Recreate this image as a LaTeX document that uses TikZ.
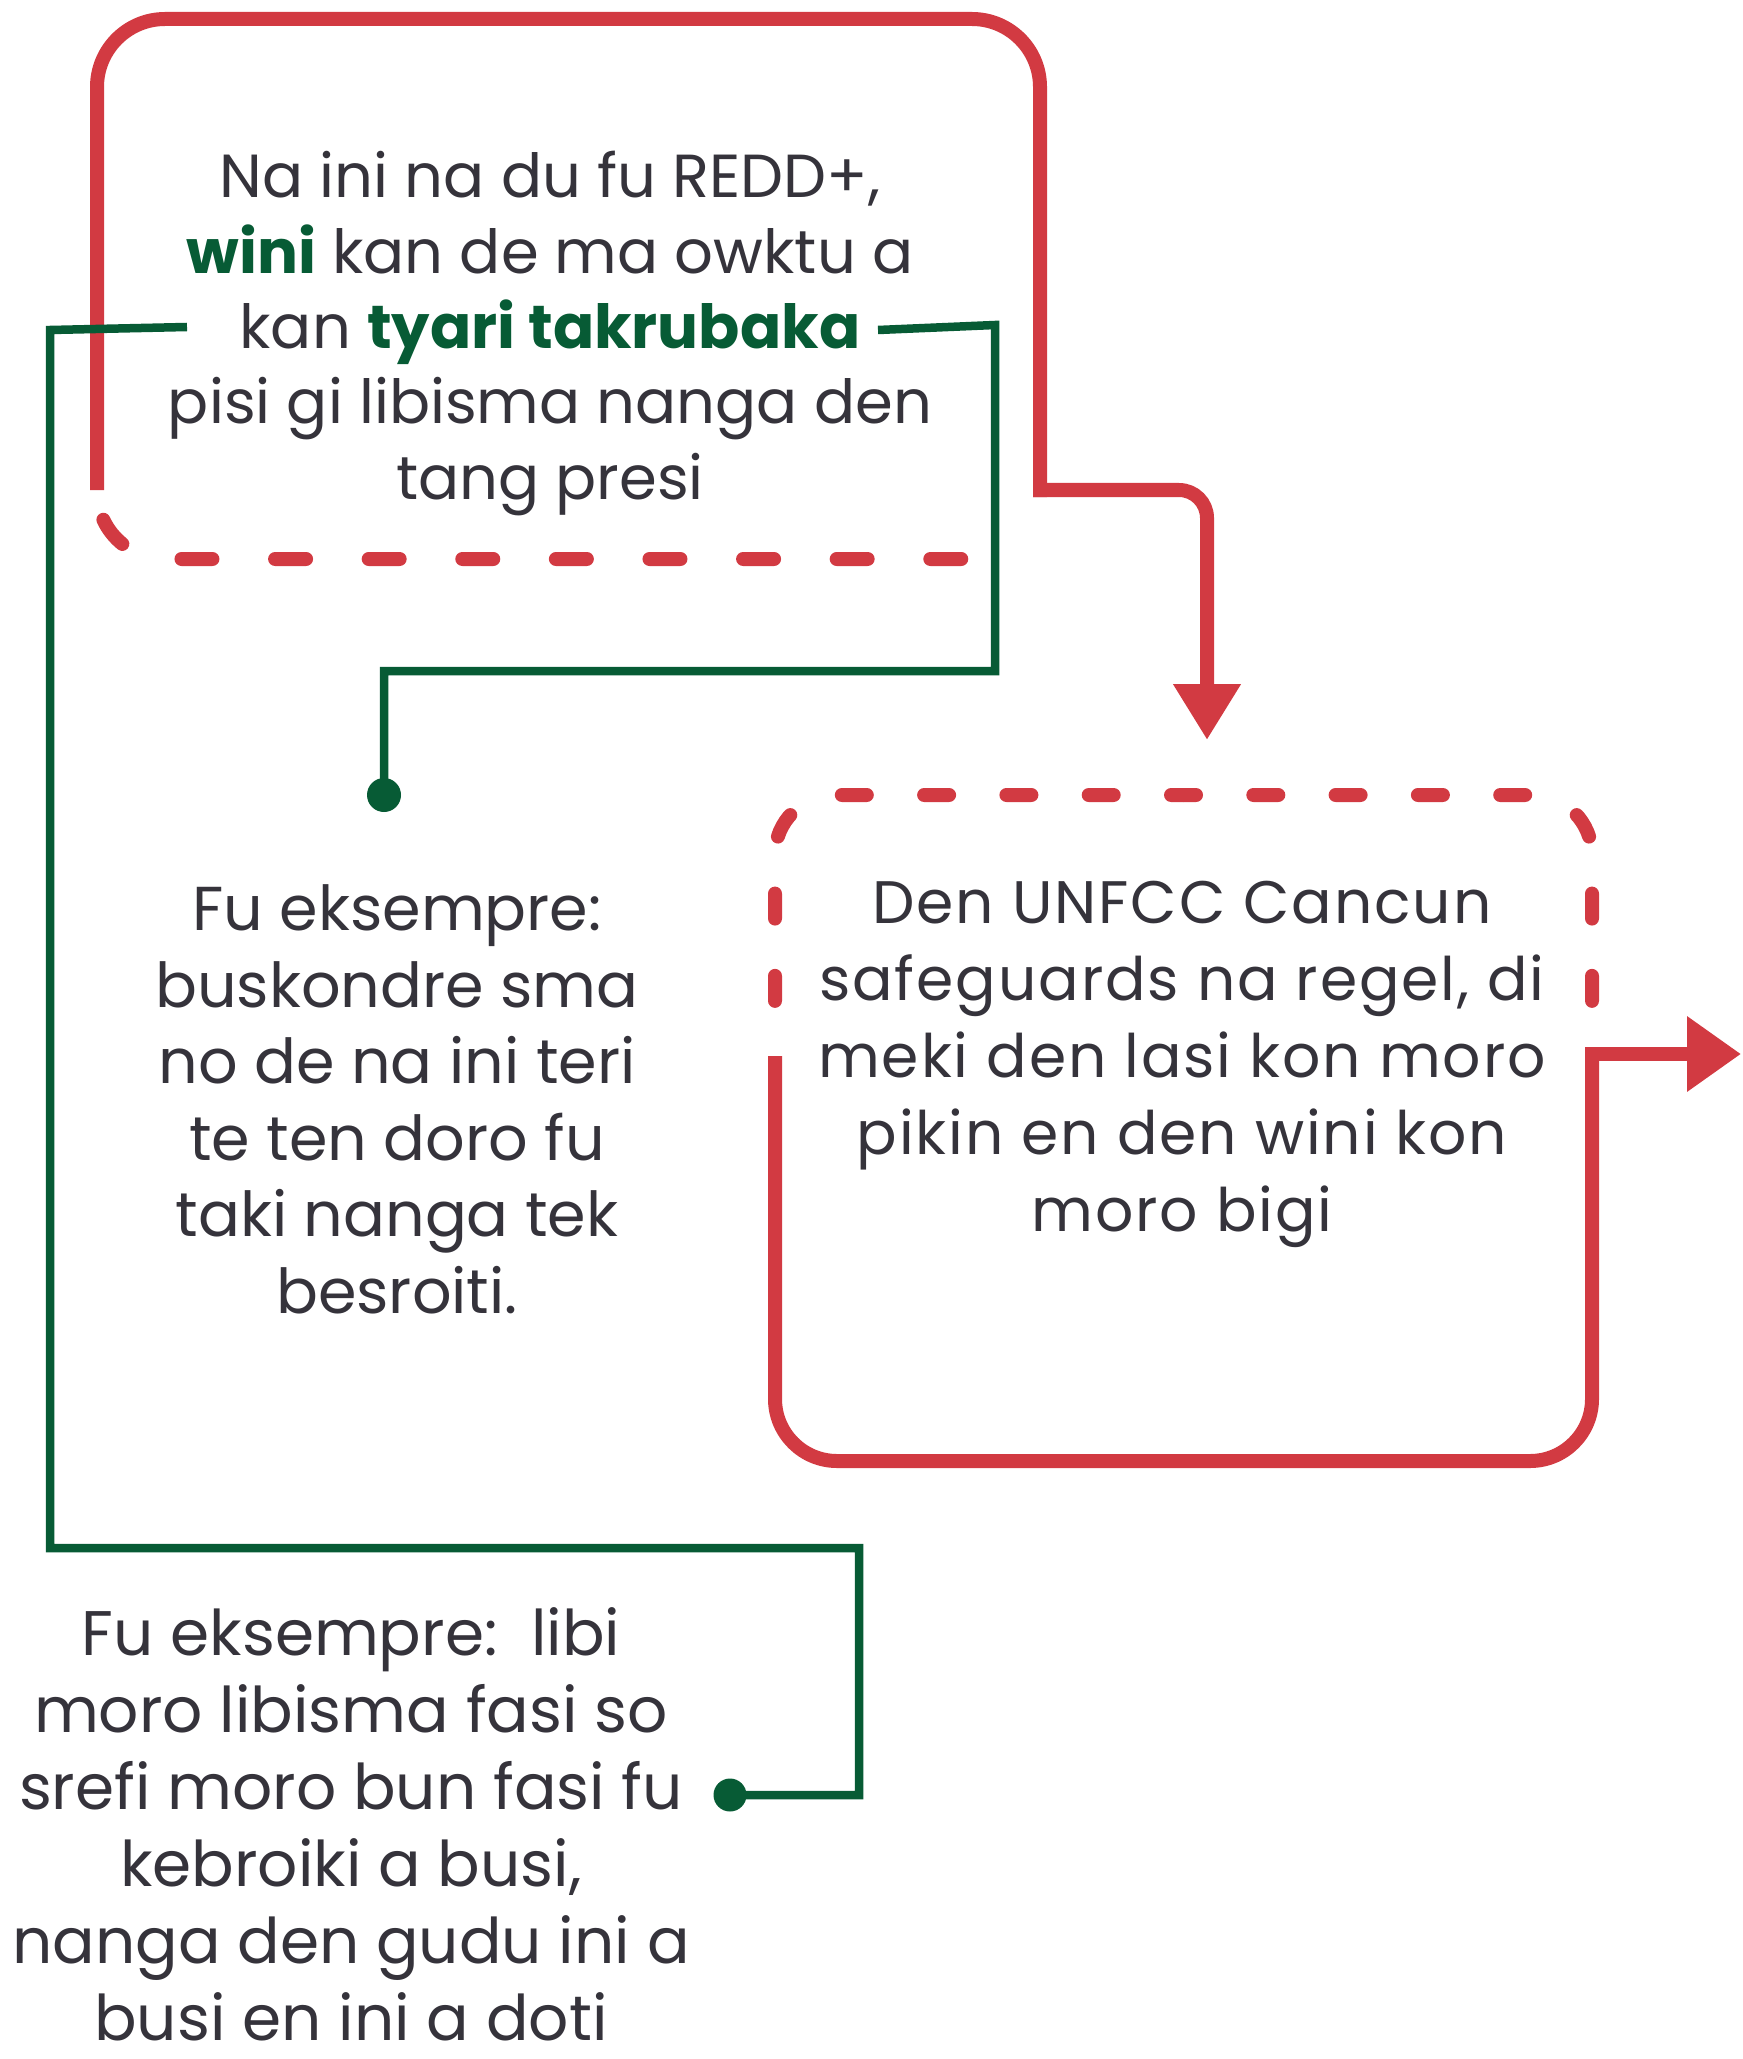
\documentclass[tikz,border=0pt]{standalone}
\usepackage{fontspec}
\setmainfont{Poppins}
\newfontfamily\widefont[LetterSpace=3.2]{Poppins}
\usetikzlibrary{arrows.meta}
\definecolor{myred}{HTML}{D23A42}
\definecolor{mygreen}{HTML}{075B35}
\definecolor{txtgray}{HTML}{35333B}
\begin{document}
\begin{tikzpicture}[x=0.5pt,y=-0.5pt,
  redline/.style={draw=myred, line width=7pt},
  greenline/.style={draw=mygreen, line width=4.25pt},
  txtnode/.style={text=txtgray, align=center, inner sep=0pt, anchor=base}]
\useasboundingbox (0,0) rectangle (1743,2059);
% ---------- coordinates
\coordinate (b1l) at (97,490);
\coordinate (b1tl) at (97,19);
\coordinate (b1tr) at (1040,19);
\coordinate (b1r) at (1040,497);
\coordinate (a1s) at (1033,490);
\coordinate (a1c) at (1207,490);
\coordinate (a1t) at (1207,740);
\coordinate (b1bl) at (97,559);
\coordinate (b1be) at (1000,559);
\coordinate (b2tc) at (1183.5,795);
\coordinate (b2tl) at (775,795);
\coordinate (b2tr) at (1592,795);
\coordinate (b2le) at (775,1040);
\coordinate (b2re) at (1592,1040);
\coordinate (b2ls) at (775,1056);
\coordinate (b2bl) at (775,1461);
\coordinate (b2br) at (1592,1461);
\coordinate (b2rs) at (1592,1047);
\coordinate (a2s) at (1585,1054);
\coordinate (a2t) at (1741,1054);
% ---------- red box 1
\draw[redline, rounded corners=34pt] (b1l) -- (b1tl) -- (b1tr) -- (b1r);
\draw[redline, rounded corners=14pt, -{Triangle[length=28pt,width=32pt]}] (a1s) -- (a1c) -- (a1t);
\draw[redline, line cap=round, dash pattern=on 15.5pt off 31.3pt, dash phase=31.45pt, rounded corners=34pt] (b1l) -- (b1bl) -- (b1be);
% ---------- red box 2
\draw[redline, line cap=round, dash pattern=on 12.5pt off 28.65pt, dash phase=6.25pt, rounded corners=30pt] (b2tc) -- (b2tl) -- (b2le);
\draw[redline, line cap=round, dash pattern=on 12.5pt off 28.65pt, dash phase=6.25pt, rounded corners=30pt] (b2tc) -- (b2tr) -- (b2re);
\draw[redline, rounded corners=31pt] (b2ls) -- (b2bl) -- (b2br) -- (b2rs);
\draw[redline, -{Triangle[length=27pt,width=36pt]}] (a2s) -- (a2t);
% ---------- texts (anchored at the baseline of the last line)
\node[txtnode, font=\fontsize{30.4}{37.65}\selectfont] (t1) at (550,499)
 {Na ini na du fu REDD+,\\ \textcolor{mygreen}{\textbf{wini}} kan de ma owktu a\\ kan \textcolor{mygreen}{\textbf{tyari takrubaka}}\\ pisi gi libisma nanga den\\ tang presi};
\node[txtnode, font=\fontsize{31}{38.25}\selectfont] (t2) at (397,1313)
 {Fu eksempre:\\ buskondre sma\\ no de na ini teri\\ te ten doro fu\\ taki nanga tek\\ besroiti.};
\node[txtnode, font=\widefont\fontsize{30}{38.5}\selectfont] (t3) at (1182,1231)
 {Den UNFCC Cancun\\ safeguards na regel, di\\ meki den lasi kon moro\\ pikin en den wini kon\\ moro bigi};
\node[txtnode, font=\fontsize{31.5}{38.5}\selectfont] (t4) at (351,2040)
 {Fu eksempre:\ \ libi\\ moro libisma fasi so\\ srefi moro bun fasi fu\\ kebroiki a busi,\\ nanga den gudu ini a\\ busi en ini a doti};
% ---------- green connectors
\coordinate (g1a) at (187,327);
\coordinate (g1b) at (50,330);
\coordinate (g1c) at (50,1548);
\coordinate (g1d) at (859,1548);
\coordinate (g1e) at (859,1795);
\coordinate (g1f) at (730,1795);
\draw[greenline] (g1a) -- (g1b) -- (g1c) -- (g1d) -- (g1e) -- (g1f);
\fill[mygreen] (g1f) circle[radius=8.25pt];
\coordinate (g2a) at (878,330);
\coordinate (g2b) at (995,325);
\coordinate (g2c) at (995,671);
\coordinate (g2d) at (384,671);
\coordinate (g2e) at (384,795);
\draw[greenline] (g2a) -- (g2b) -- (g2c) -- (g2d) -- (g2e);
\fill[mygreen] (g2e) circle[radius=8.5pt];
\end{tikzpicture}
\end{document}
